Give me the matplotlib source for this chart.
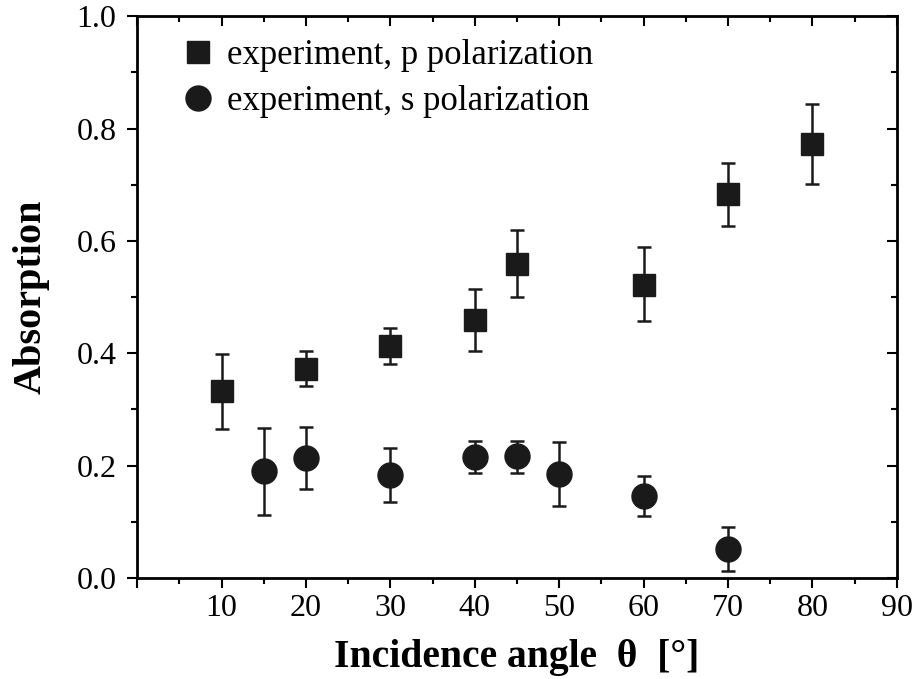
import matplotlib
matplotlib.use("Agg")
import matplotlib.pyplot as plt
from matplotlib.ticker import MultipleLocator
import numpy as np

plt.rcParams['font.family'] = ['Liberation Serif', 'DejaVu Serif']

# p polarization (squares)
p_angle = [10, 20, 30, 40, 45, 60, 70, 80]
p_abs = [0.333, 0.372, 0.413, 0.459, 0.559, 0.521, 0.683, 0.772]
p_err_lo = [0.068, 0.030, 0.032, 0.055, 0.059, 0.064, 0.057, 0.071]
p_err_hi = [0.066, 0.032, 0.032, 0.055, 0.060, 0.068, 0.055, 0.071]

# s polarization (circles)
s_angle = [15, 20, 30, 40, 45, 50, 60, 70]
s_abs = [0.190, 0.214, 0.183, 0.215, 0.217, 0.185, 0.146, 0.052]
s_err_lo = [0.078, 0.056, 0.048, 0.028, 0.030, 0.057, 0.036, 0.040]
s_err_hi = [0.077, 0.055, 0.048, 0.029, 0.027, 0.057, 0.035, 0.039]

fig = plt.figure(figsize=(9.15, 6.79), dpi=100)
ax = fig.add_axes([0.150, 0.149, 0.830, 0.827])

col = '#1a1a1a'
ax.errorbar(p_angle, p_abs, yerr=[p_err_lo, p_err_hi], fmt='none', ecolor=col,
            elinewidth=1.8, capsize=5, capthick=1.8)
ax.errorbar(s_angle, s_abs, yerr=[s_err_lo, s_err_hi], fmt='none', ecolor=col,
            elinewidth=1.8, capsize=5, capthick=1.8)
ax.plot(p_angle, p_abs, 's', color=col, markersize=16, linestyle='none',
        label='experiment, p polarization')
ax.plot(s_angle, s_abs, 'o', color=col, markersize=18, linestyle='none',
        label='experiment, s polarization')

ax.set_xlim(0, 90)
ax.set_ylim(0, 1.0)
ax.set_xticks(np.arange(0, 91, 10))
ax.set_xticklabels([''] + [str(v) for v in range(10, 91, 10)])
ax.xaxis.set_minor_locator(MultipleLocator(5))
ax.set_yticks(np.arange(0, 1.01, 0.2))
ax.set_yticklabels(['%.1f' % v for v in np.arange(0, 1.01, 0.2)])
ax.yaxis.set_minor_locator(MultipleLocator(0.1))

for s in ax.spines.values():
    s.set_linewidth(2)
ax.tick_params(axis='both', which='major', direction='out', length=7, width=1.5,
               labelsize=23)
ax.tick_params(axis='x', which='major', pad=5)
ax.tick_params(axis='y', which='major', pad=8)
ax.tick_params(axis='both', which='minor', direction='out', length=4, width=1.5)

# inward ticks on top and right
top = ax.secondary_xaxis('top')
top.set_xticks(np.arange(0, 91, 10))
top.xaxis.set_minor_locator(MultipleLocator(5))
top.tick_params(which='major', direction='in', length=7, width=1.5, labeltop=False)
top.tick_params(which='minor', direction='in', length=4, width=1.5)
right = ax.secondary_yaxis('right')
right.set_yticks(np.arange(0, 1.01, 0.2))
right.yaxis.set_minor_locator(MultipleLocator(0.1))
right.tick_params(which='major', direction='in', length=7, width=1.5, labelright=False)
right.tick_params(which='minor', direction='in', length=4, width=1.5)

ax.set_xlabel('Incidence angle  θ  [°]', fontsize=28.5, fontweight='bold', labelpad=11)
ax.set_ylabel('Absorption', fontsize=29, fontweight='bold', labelpad=19)

ax.legend(loc='upper left', frameon=False, fontsize=25, handletextpad=0.35,
          borderaxespad=0.3, labelspacing=0.38, handlelength=1.0,
          bbox_to_anchor=(0.025, 1.003))

fig.savefig('out.png', dpi=100)
